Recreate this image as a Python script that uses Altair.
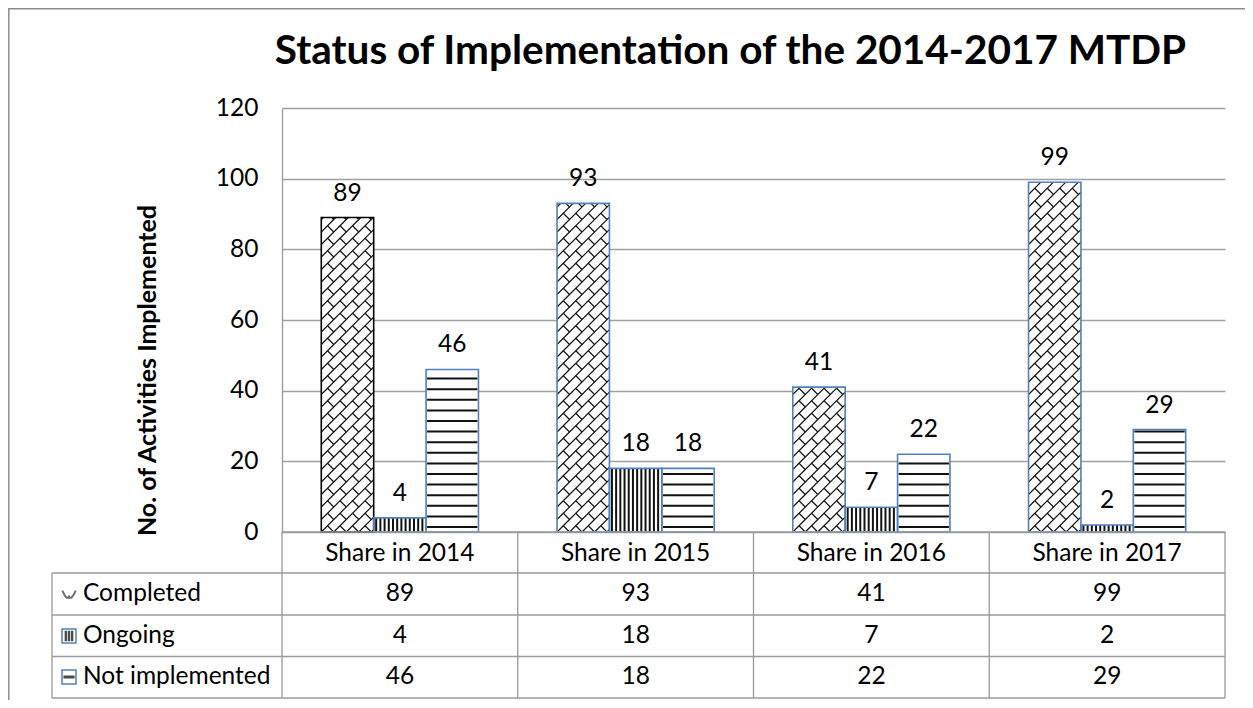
import altair as alt
import pandas as pd

# ---------------- data ----------------
title_text = "Status of Implementation of the 2014-2017 MTDP"
y_title = "No. of Activities Implemented"
years = ["Share in 2014", "Share in 2015", "Share in 2016", "Share in 2017"]
series = ["Completed", "Ongoing", "Not implemented"]
completed = [89, 93, 41, 99]
ongoing = [4, 18, 7, 2]
not_implemented = [46, 18, 22, 29]
y_ticks = [0, 20, 40, 60, 80, 100, 120]

values = {"Completed": completed, "Ongoing": ongoing, "Not implemented": not_implemented}
rows = []
for si, s in enumerate(series):
    for yi, y in enumerate(years):
        rows.append({"year": y, "yi": yi, "series": s, "si": si, "value": values[s][yi]})
df = pd.DataFrame(rows)
one = pd.DataFrame({"k": [0]})

# ---------------- layout / style ----------------
W, H = 943, 424
YMAX = 120
COL = W / len(years)
BAR = COL / 4.5
KY = YMAX / H
S = 12.5  # brick pattern spacing (px)
FONT = "Lato"
BLUE = "#4F81BD"
GRID = "#A0A0A0"
TBL = "#9A9A9A"
FS = 24.5
ROW_Y = [486, 528, 569]
HEAD_Y = 446
TBL_LINES_Y = [465, 507, 548.5, 590]
LEFT = -230

xband = alt.X("year:N", sort=years,
              scale=alt.Scale(domain=years, paddingInner=0, paddingOuter=0), axis=None)
xoff = alt.XOffset("series:N", sort=series,
                   scale=alt.Scale(domain=series, paddingInner=0, paddingOuter=0.75))
yscale = alt.Scale(domain=[0, YMAX], nice=False, zero=True)
yaxis = alt.Axis(values=y_ticks, title=y_title, grid=True, gridColor=GRID, gridWidth=1.3,
                 domain=True, domainColor=TBL, domainWidth=1.3, ticks=False,
                 labelFont=FONT, labelFontSize=FS, labelColor="black", labelPadding=24,
                 titleFont=FONT, titleFontSize=25, titleFontWeight="bold", titleColor="black",
                 titlePadding=55, titleY=262)


def Y(field):
    return alt.Y(f"{field}:Q", scale=yscale, axis=yaxis)


def XQ(field):
    return alt.X(f"{field}:Q", scale=alt.Scale(domain=[0, len(years)], nice=False, zero=False),
                 axis=None)


base = alt.Chart(df)
LX = f"(0.75 + datum.si) * {BAR}"  # bar left edge (px) inside its column

# white bar bodies
bars_bg = base.mark_bar(fill="white", strokeWidth=0).encode(x=xband, xOffset=xoff, y=Y("value"))

# horizontal stripes: Not implemented
hstripes = (
    base.transform_filter("datum.series == 'Not implemented'")
    .transform_calculate(ys=f"sequence(5, datum.value / {KY} - 1, 10.6)")
    .transform_flatten(["ys"])
    .transform_calculate(x1=f"datum.yi + ({LX} + 1) / {COL}")
    .transform_calculate(x2=f"datum.yi + ({LX} + {BAR} - 1) / {COL}")
    .transform_calculate(yv=f"datum.ys * {KY}")
    .mark_rule(color="#111", strokeWidth=2)
    .encode(x=XQ("x1"), x2="x2:Q", y=Y("yv"))
)

# vertical stripes: Ongoing
vstripes = (
    base.transform_filter("datum.series == 'Ongoing'")
    .transform_calculate(xs=f"sequence(2.5, {BAR} - 1, 4.2)")
    .transform_calculate(y0="0")
    .transform_flatten(["xs"])
    .transform_calculate(xv=f"datum.yi + ({LX} + datum.xs) / {COL}")
    .mark_rule(color="#111", strokeWidth=2)
    .encode(x=XQ("xv"), y=Y("y0"), y2="value:Q")
)

# diagonal brick: "/" lines
comp = base.transform_filter("datum.series == 'Completed'").transform_calculate(
    h=f"datum.value / {KY}")
diag1 = (
    comp.transform_calculate(ii=f"sequence(floor(-{BAR}/{S}), ceil(datum.h/{S}) + 1)")
    .transform_flatten(["ii"])
    .transform_calculate(b=f"datum.ii * {S}")
    .transform_calculate(xlo="max(0, -datum.b)")
    .transform_calculate(xhi=f"min({BAR}, datum.h - datum.b)")
    .transform_filter("datum.xhi > datum.xlo + 0.5")
    .transform_calculate(x1=f"datum.yi + ({LX} + datum.xlo) / {COL}")
    .transform_calculate(x2=f"datum.yi + ({LX} + datum.xhi) / {COL}")
    .transform_calculate(y1v=f"(datum.xlo + datum.b) * {KY}")
    .transform_calculate(y2v=f"(datum.xhi + datum.b) * {KY}")
    .mark_rule(color="#111", strokeWidth=1.2)
    .encode(x=XQ("x1"), x2="x2:Q", y=Y("y1v"), y2="y2v:Q")
)
# diagonal brick: "\" short connectors
diag2 = (
    comp.transform_calculate(ii=f"sequence(floor(-{BAR}/{S}) - 1, ceil(datum.h/{S}) + 1)")
    .transform_flatten(["ii"])
    .transform_calculate(jj=f"sequence(0, ceil((datum.h + {BAR})/{S}) + 1)")
    .transform_flatten(["jj"])
    .transform_filter("(datum.ii + datum.jj) % 2 == 0")
    .transform_calculate(b=f"datum.ii * {S}")
    .transform_calculate(c=f"datum.jj * {S}")
    .transform_calculate(xlo=f"max((datum.c - datum.b - {S}) / 2, 0, datum.c - datum.h)")
    .transform_calculate(xhi=f"min((datum.c - datum.b) / 2, {BAR}, datum.c)")
    .transform_filter("datum.xhi > datum.xlo + 0.3")
    .transform_calculate(x1=f"datum.yi + ({LX} + datum.xlo) / {COL}")
    .transform_calculate(x2=f"datum.yi + ({LX} + datum.xhi) / {COL}")
    .transform_calculate(y1v=f"(datum.c - datum.xlo) * {KY}")
    .transform_calculate(y2v=f"(datum.c - datum.xhi) * {KY}")
    .mark_rule(color="#111", strokeWidth=1.2)
    .encode(x=XQ("x1"), x2="x2:Q", y=Y("y1v"), y2="y2v:Q")
)

# bar outlines
bars_outline = base.mark_bar(fillOpacity=0, strokeWidth=1.6).encode(
    x=xband, xOffset=xoff, y=Y("value"),
    stroke=alt.condition("datum.series == 'Completed' && datum.yi == 0",
                         alt.value("black"), alt.value(BLUE)),
)

# value labels above bars
labels = base.mark_text(font=FONT, fontSize=FS, baseline="alphabetic", dy=-17,
                        color="black").encode(x=xband, xOffset=xoff, y=Y("value"),
                                              text="value:Q")

layers = [bars_bg, hstripes, vstripes, diag1, diag2, bars_outline, labels]

# chart title
layers.append(alt.Chart(pd.DataFrame({"t": [title_text]})).mark_text(
    font=FONT, fontSize=40.5, fontWeight="bold", color="black", align="center",
    baseline="alphabetic").encode(x=alt.value(W / 2 - 23), y=alt.value(-44), text="t:N"))

# ---------------- data table below the plot ----------------
header = alt.Chart(pd.DataFrame({"year": years})).mark_text(
    font=FONT, fontSize=FS, baseline="middle", color="black").encode(
    x=xband, y=alt.value(HEAD_Y), text="year:N")
layers.append(header)

ser_df = pd.DataFrame({"series": series})
for i, s in enumerate(series):
    layers.append(
        base.transform_filter(f"datum.series == '{s}'").mark_text(
            font=FONT, fontSize=FS, baseline="middle", color="black").encode(
            x=xband, y=alt.value(ROW_Y[i]), text="value:Q"))
    layers.append(
        alt.Chart(ser_df).transform_filter(f"datum.series == '{s}'").mark_text(
            font=FONT, fontSize=FS, baseline="middle", align="left", color="black").encode(
            x=alt.value(-199), y=alt.value(ROW_Y[i]), text="series:N"))

# legend keys in the table
ikey = alt.Chart(one)
layers.append(ikey.mark_point(shape="M-0.9,-0.45 Q-0.3,0.9 0,0.35 Q0.3,0.9 0.9,-0.45",
                              size=220, filled=False, stroke="#333", strokeWidth=2).encode(
    x=alt.value(-213), y=alt.value(ROW_Y[0])))
for i in (1, 2):
    layers.append(ikey.mark_point(shape="square", size=196, filled=True, fill="white",
                                  stroke=BLUE, strokeWidth=1.5, opacity=1).encode(
        x=alt.value(-213), y=alt.value(ROW_Y[i])))
layers.append(ikey.mark_point(shape="M-0.45,-0.75V0.75M0,-0.75V0.75M0.45,-0.75V0.75",
                              size=196, filled=False, stroke="black", strokeWidth=2.4).encode(
    x=alt.value(-213), y=alt.value(ROW_Y[1])))
layers.append(ikey.mark_point(shape="M-0.8,0H0.8", size=196, filled=False,
                              stroke="black", strokeWidth=3).encode(
    x=alt.value(-213), y=alt.value(ROW_Y[2])))

# table grid lines
tbl = alt.Chart(one).mark_rule(color=TBL, strokeWidth=1.3)
layers.append(tbl.encode(x=alt.value(0), x2=alt.value(W), y=alt.value(H)))
for yy in TBL_LINES_Y:
    layers.append(tbl.encode(x=alt.value(LEFT), x2=alt.value(W), y=alt.value(yy)))
for k in range(len(years) + 1):
    layers.append(tbl.encode(x=alt.value(k * COL), y=alt.value(H), y2=alt.value(TBL_LINES_Y[-1])))
layers.append(tbl.encode(x=alt.value(LEFT), y=alt.value(TBL_LINES_Y[0]),
                         y2=alt.value(TBL_LINES_Y[-1])))

# outer chart border
border = alt.Chart(one).mark_rule(color="#8C8C8C", strokeWidth=1.5)
layers.append(border.encode(x=alt.value(-273.2), y=alt.value(-99.5), y2=alt.value(600)))
layers.append(border.encode(x=alt.value(-274), x2=alt.value(W + 20), y=alt.value(-99.2)))

chart = (
    alt.layer(*layers)
    .resolve_scale(x="independent")
    .properties(
        width=W, height=H,
        autosize=alt.AutoSizeParams(type="none"),
        padding={"left": 274, "top": 100, "right": 20, "bottom": 168},
    )
    .configure_view(stroke=None)
)

chart.save("out.html", embed_options={"renderer": "svg", "actions": False})
